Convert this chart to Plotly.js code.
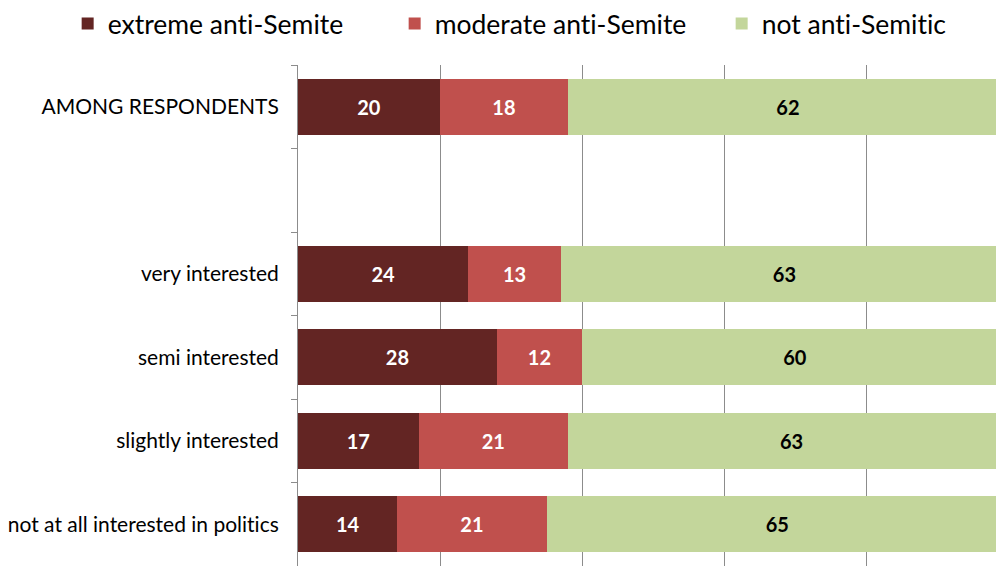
<!DOCTYPE html>
<html>
<head>
<meta charset="utf-8">
<script src="https://cdn.plot.ly/plotly-3.0.1.min.js"></script>
<style>
html,body{margin:0;padding:0;overflow:hidden;background:#fff}
svg text{font-variant-ligatures:none !important;font-feature-settings:"liga" 0,"clig" 0 !important;}
</style>
</head>
<body>
<div id="chart" style="width:996px;height:566px"></div>
<script>
const categories = ["AMONG RESPONDENTS", " ", "very interested", "semi interested", "slightly interested", "not at all interested in politics"];
const extreme = [20, null, 24, 28, 17, 14];
const moderate = [18, null, 13, 12, 21, 21];
const notAnti = [62, null, 63, 60, 63, 65];
const seriesNames = ["extreme anti-Semite", "moderate anti-Semite", "not anti-Semitic"];
const colors = ["#632523", "#C0504D", "#C3D69B"];
const textColors = ["#ffffff", "#ffffff", "#000000"];

const font = "Lato, 'Open Sans', sans-serif";
const traces = [extreme, moderate, notAnti].map((vals, i) => ({
  type: "bar",
  orientation: "h",
  name: seriesNames[i],
  y: categories,
  x: vals,
  text: vals.map(v => v == null ? "" : String(v)),
  textposition: "inside",
  insidetextanchor: "middle",
  textangle: 0,
  constraintext: "none",
  textfont: {family: font, size: 20, color: textColors[i], weight: "bold"},
  marker: {color: colors[i], line: {width: 0}},
  hoverinfo: "none"
}));

const layout = {
  width: 996, height: 566,
  margin: {l: 298, r: 0, t: 65, b: 0, autoexpand: false},
  barmode: "stack",
  bargap: 0.33,
  paper_bgcolor: "#fff", plot_bgcolor: "#fff",
  font: {family: font, size: 21, color: "#000"},
  showlegend: true,
  legend: {
    orientation: "h", xref: "paper", x: -0.33, xanchor: "left",
    yref: "paper", y: 1.13, yanchor: "top",
    font: {family: font, size: 26.5, color: "#000"},
    traceorder: "normal", entrywidth: 282, entrywidthmode: "pixels"
  },
  xaxis: {
    range: [0, 98.3], dtick: 20, showgrid: true, gridcolor: "#8c8c8c", gridwidth: 1,
    showticklabels: false, zeroline: false, showline: false, fixedrange: true
  },
  yaxis: {
    type: "category", categoryorder: "array", categoryarray: categories,
    autorange: "reversed", showline: true, linecolor: "#8c8c8c", linewidth: 1,
    ticks: "outside", tickson: "boundaries", ticklen: 6, tickcolor: "#8c8c8c",
    ticklabelstandoff: 14,
    tickfont: {family: font, size: 21, color: "#000"}, showgrid: false, zeroline: false
  }
};
Plotly.newPlot("chart", traces, layout, {displayModeBar: false, staticPlot: true});
</script>
</body>
</html>
